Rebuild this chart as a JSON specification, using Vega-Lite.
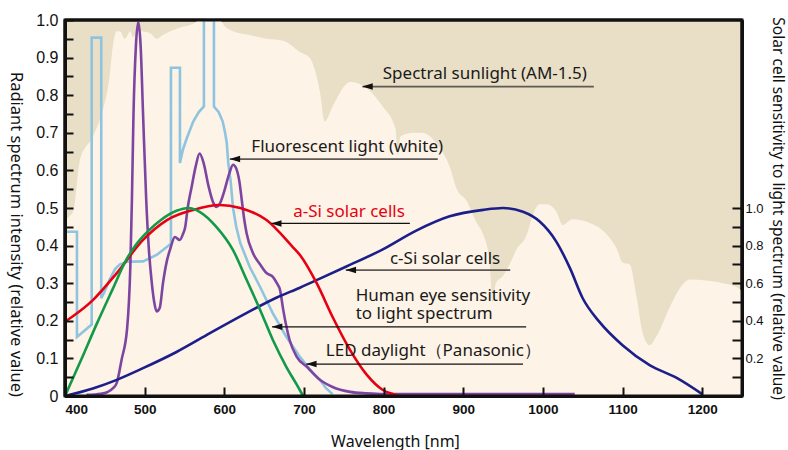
{
  "$schema": "https://vega.github.io/schema/vega-lite/v6.json",
  "width": 677,
  "height": 376,
  "autosize": {"type": "none"},
  "padding": {"left": 65, "top": 20, "right": 46, "bottom": 54},
  "background": "white",
  "config": {"view": {"fill": "#E8DFC6", "stroke": "#111111", "strokeWidth": 3}, "axis": {"grid": false}},
  "datasets": {
    "sun": [
      {"nm": 400, "v": 0.47}, {"nm": 410, "v": 0.49}, {"nm": 419, "v": 0.63}, {"nm": 435, "v": 0.69},
      {"nm": 448, "v": 0.765}, {"nm": 456, "v": 0.85}, {"nm": 460, "v": 0.93}, {"nm": 465, "v": 0.97},
      {"nm": 469, "v": 0.97}, {"nm": 475, "v": 0.95}, {"nm": 482, "v": 0.97}, {"nm": 485, "v": 0.955},
      {"nm": 494, "v": 0.97}, {"nm": 507, "v": 0.965}, {"nm": 515, "v": 0.95}, {"nm": 523, "v": 0.96},
      {"nm": 532, "v": 0.97}, {"nm": 545, "v": 0.98}, {"nm": 561, "v": 0.99}, {"nm": 569, "v": 1.0},
      {"nm": 594, "v": 1.0}, {"nm": 600, "v": 0.985}, {"nm": 611, "v": 0.97}, {"nm": 632, "v": 0.96},
      {"nm": 653, "v": 0.95}, {"nm": 674, "v": 0.945}, {"nm": 695, "v": 0.915}, {"nm": 707, "v": 0.9},
      {"nm": 720, "v": 0.81}, {"nm": 726, "v": 0.73}, {"nm": 736, "v": 0.77}, {"nm": 758, "v": 0.835},
      {"nm": 770, "v": 0.83}, {"nm": 799, "v": 0.77}, {"nm": 815, "v": 0.71}, {"nm": 818, "v": 0.64},
      {"nm": 821, "v": 0.69}, {"nm": 837, "v": 0.7}, {"nm": 849, "v": 0.7}, {"nm": 867, "v": 0.67},
      {"nm": 883, "v": 0.61}, {"nm": 892, "v": 0.55}, {"nm": 904, "v": 0.52}, {"nm": 917, "v": 0.46},
      {"nm": 925, "v": 0.43}, {"nm": 933, "v": 0.36}, {"nm": 937, "v": 0.25}, {"nm": 941, "v": 0.3},
      {"nm": 950, "v": 0.32}, {"nm": 958, "v": 0.35}, {"nm": 967, "v": 0.39}, {"nm": 980, "v": 0.43},
      {"nm": 987, "v": 0.48}, {"nm": 996, "v": 0.51}, {"nm": 1005, "v": 0.51}, {"nm": 1017, "v": 0.49},
      {"nm": 1025, "v": 0.455}, {"nm": 1037, "v": 0.47}, {"nm": 1059, "v": 0.46}, {"nm": 1080, "v": 0.43},
      {"nm": 1093, "v": 0.39}, {"nm": 1100, "v": 0.355}, {"nm": 1109, "v": 0.35}, {"nm": 1118, "v": 0.26},
      {"nm": 1125, "v": 0.17}, {"nm": 1134, "v": 0.135}, {"nm": 1143, "v": 0.16}, {"nm": 1159, "v": 0.235},
      {"nm": 1175, "v": 0.295}, {"nm": 1184, "v": 0.31}, {"nm": 1226, "v": 0.3}, {"nm": 1243, "v": 0.29},
      {"nm": 1250, "v": 0.28}
    ],
    "fluo": [
      {"i": 1, "nm": 400, "v": 0.437}, {"i": 2, "nm": 415, "v": 0.437}, {"i": 3, "nm": 415, "v": 0.157},
      {"i": 4, "nm": 433.5, "v": 0.19}, {"i": 5, "nm": 433.5, "v": 0.953}, {"i": 6, "nm": 445.5, "v": 0.953},
      {"i": 7, "nm": 445.5, "v": 0.26}, {"i": 8, "nm": 449, "v": 0.275}, {"i": 9, "nm": 456, "v": 0.31},
      {"i": 10, "nm": 463, "v": 0.338}, {"i": 11, "nm": 469, "v": 0.35}, {"i": 12, "nm": 478, "v": 0.357},
      {"i": 13, "nm": 498, "v": 0.358}, {"i": 14, "nm": 515, "v": 0.375}, {"i": 15, "nm": 533, "v": 0.405},
      {"i": 16, "nm": 533, "v": 0.873}, {"i": 17, "nm": 544.3, "v": 0.873}, {"i": 18, "nm": 544.3, "v": 0.62},
      {"i": 19, "nm": 548, "v": 0.655}, {"i": 20, "nm": 553, "v": 0.686}, {"i": 21, "nm": 561, "v": 0.73},
      {"i": 22, "nm": 568, "v": 0.755}, {"i": 23, "nm": 574.4, "v": 0.77}, {"i": 24, "nm": 574.4, "v": 1.0},
      {"i": 25, "nm": 587, "v": 1.0}, {"i": 26, "nm": 587, "v": 0.77}, {"i": 27, "nm": 593, "v": 0.755},
      {"i": 28, "nm": 598, "v": 0.73}, {"i": 29, "nm": 601, "v": 0.7}, {"i": 30, "nm": 603, "v": 0.675},
      {"i": 31, "nm": 605, "v": 0.62}, {"i": 32, "nm": 608, "v": 0.57}, {"i": 33, "nm": 611, "v": 0.5},
      {"i": 34, "nm": 615, "v": 0.45}, {"i": 35, "nm": 620, "v": 0.407}, {"i": 36, "nm": 632, "v": 0.343},
      {"i": 37, "nm": 645, "v": 0.29}, {"i": 38, "nm": 661, "v": 0.22}, {"i": 39, "nm": 678, "v": 0.157},
      {"i": 40, "nm": 695, "v": 0.104}, {"i": 41, "nm": 711, "v": 0.061}, {"i": 42, "nm": 720, "v": 0.043},
      {"i": 43, "nm": 728, "v": 0.02}, {"i": 44, "nm": 736, "v": 0.005}
    ],
    "led": [
      {"nm": 427, "v": 0.003}, {"nm": 445, "v": 0.006}, {"nm": 453, "v": 0.01}, {"nm": 460, "v": 0.02},
      {"nm": 465, "v": 0.035}, {"nm": 471, "v": 0.096}, {"nm": 478, "v": 0.18}, {"nm": 482, "v": 0.343},
      {"nm": 484, "v": 0.52}, {"nm": 486, "v": 0.75}, {"nm": 489, "v": 0.93}, {"nm": 492, "v": 0.995},
      {"nm": 495, "v": 0.93}, {"nm": 498, "v": 0.75}, {"nm": 502, "v": 0.52}, {"nm": 505, "v": 0.4},
      {"nm": 509, "v": 0.3}, {"nm": 512, "v": 0.25}, {"nm": 515, "v": 0.225}, {"nm": 519, "v": 0.235},
      {"nm": 523, "v": 0.3}, {"nm": 528, "v": 0.36}, {"nm": 532, "v": 0.39}, {"nm": 538, "v": 0.423},
      {"nm": 544, "v": 0.415}, {"nm": 548, "v": 0.43}, {"nm": 551, "v": 0.45}, {"nm": 554, "v": 0.5},
      {"nm": 559, "v": 0.556}, {"nm": 564, "v": 0.61}, {"nm": 569, "v": 0.645}, {"nm": 574, "v": 0.62},
      {"nm": 580, "v": 0.56}, {"nm": 586, "v": 0.515}, {"nm": 590, "v": 0.503}, {"nm": 594, "v": 0.51},
      {"nm": 600, "v": 0.545}, {"nm": 606, "v": 0.59}, {"nm": 611, "v": 0.615}, {"nm": 615, "v": 0.605},
      {"nm": 619, "v": 0.57}, {"nm": 622, "v": 0.52}, {"nm": 625, "v": 0.47}, {"nm": 628, "v": 0.433},
      {"nm": 636, "v": 0.38}, {"nm": 645, "v": 0.35}, {"nm": 653, "v": 0.327}, {"nm": 661, "v": 0.317},
      {"nm": 666, "v": 0.3}, {"nm": 670, "v": 0.282}, {"nm": 674, "v": 0.229}, {"nm": 682, "v": 0.149},
      {"nm": 691, "v": 0.104}, {"nm": 704, "v": 0.077}, {"nm": 720, "v": 0.043}, {"nm": 736, "v": 0.024},
      {"nm": 758, "v": 0.011}, {"nm": 779, "v": 0.007}, {"nm": 800, "v": 0.005}, {"nm": 1040, "v": 0.005}
    ],
    "asi": [
      {"nm": 400, "s": 0.395}, {"nm": 435, "s": 0.51}, {"nm": 465, "s": 0.654}, {"nm": 498, "s": 0.83},
      {"nm": 528, "s": 0.936}, {"nm": 561, "s": 0.99}, {"nm": 594, "s": 1.016}, {"nm": 620, "s": 1.0},
      {"nm": 653, "s": 0.936}, {"nm": 686, "s": 0.792}, {"nm": 695, "s": 0.75}, {"nm": 716, "s": 0.6},
      {"nm": 736, "s": 0.42}, {"nm": 758, "s": 0.244}, {"nm": 779, "s": 0.112}, {"nm": 799, "s": 0.032},
      {"nm": 812, "s": 0.01}, {"nm": 820, "s": 0}
    ],
    "eye": [
      {"nm": 400, "s": 0}, {"nm": 420, "s": 0.19}, {"nm": 440, "s": 0.385}, {"nm": 460, "s": 0.57},
      {"nm": 477, "s": 0.725}, {"nm": 490, "s": 0.81}, {"nm": 505, "s": 0.88}, {"nm": 520, "s": 0.935},
      {"nm": 540, "s": 0.985}, {"nm": 555, "s": 1.0}, {"nm": 569, "s": 0.98}, {"nm": 590, "s": 0.9},
      {"nm": 611, "s": 0.776}, {"nm": 628, "s": 0.618}, {"nm": 645, "s": 0.458}, {"nm": 661, "s": 0.298},
      {"nm": 678, "s": 0.154}, {"nm": 691, "s": 0.06}, {"nm": 699, "s": 0}
    ],
    "csi": [
      {"nm": 400, "s": 0}, {"nm": 435, "s": 0.04}, {"nm": 465, "s": 0.086}, {"nm": 498, "s": 0.148},
      {"nm": 540, "s": 0.234}, {"nm": 582, "s": 0.334}, {"nm": 623, "s": 0.43}, {"nm": 666, "s": 0.524},
      {"nm": 695, "s": 0.576}, {"nm": 720, "s": 0.624}, {"nm": 754, "s": 0.69}, {"nm": 799, "s": 0.78},
      {"nm": 841, "s": 0.88}, {"nm": 883, "s": 0.956}, {"nm": 925, "s": 0.99}, {"nm": 950, "s": 1.0},
      {"nm": 975, "s": 0.98}, {"nm": 996, "s": 0.928}, {"nm": 1017, "s": 0.82}, {"nm": 1034, "s": 0.68},
      {"nm": 1050, "s": 0.52}, {"nm": 1071, "s": 0.394}, {"nm": 1100, "s": 0.27}, {"nm": 1134, "s": 0.164},
      {"nm": 1168, "s": 0.096}, {"nm": 1200, "s": 0.01}
    ],
    "notes": [
      {"text": "Spectral sunlight (AM-1.5)", "x": 799, "y": 0.843},
      {"text": "Fluorescent light (white)", "x": 634, "y": 0.65},
      {"text": "c-Si solar cells", "x": 808, "y": 0.351},
      {"text": "Human eye sensitivity\nto light spectrum", "x": 765, "y": 0.253},
      {"text": "LED daylight（Panasonic）", "x": 727.5, "y": 0.107}
    ],
    "notesRed": [
      {"text": "a-Si solar cells", "x": 686.5, "y": 0.477}
    ],
    "pointersGrey": [
      {"x1": 773.5, "x2": 1064, "y": 0.823},
      {"x1": 607, "x2": 868, "y": 0.63},
      {"x1": 752.6, "x2": 959, "y": 0.335}
    ],
    "pointersBlack": [
      {"x1": 659, "x2": 833, "y": 0.459},
      {"x1": 660, "x2": 979, "y": 0.184},
      {"x1": 703, "x2": 975, "y": 0.085}
    ],
    "frameH": [{"y": 0}, {"y": 1}],
    "frameV": [{"x": 400}, {"x": 1250}]
  },
  "layer": [
    {
      "data": {"name": "sun"},
      "mark": {"type": "area", "color": "#FDF3E6", "interpolate": "monotone"},
      "encoding": {
        "x": {
          "field": "nm", "type": "quantitative",
          "scale": {"domain": [400, 1250], "nice": false, "zero": false},
          "axis": {
            "orient": "bottom", "values": [400, 500, 600, 700, 800, 900, 1000, 1100, 1200], "format": "d",
            "tickSize": -9, "tickWidth": 2, "tickColor": "#111", "domainColor": "#111", "domainWidth": 3,
            "labelPadding": 15, "labelFont": "Liberation Sans", "labelFontSize": 13.5, "labelFontWeight": "bold",
            "labelColor": "#111", "labelFlush": true,
            "title": "Wavelength [nm]", "titleFont": "Noto Sans", "titleFontSize": 16, "titleFontWeight": "normal",
            "titleColor": "#111", "titleX": 330, "titleY": 37, "titleBaseline": "top", "zindex": 1
          }
        },
        "y": {
          "field": "v", "type": "quantitative",
          "scale": {"domain": [0, 1], "nice": false, "zero": true},
          "axis": {
            "orient": "left",
            "values": [0, 0.05, 0.1, 0.15, 0.2, 0.25, 0.3, 0.35, 0.4, 0.45, 0.5, 0.55, 0.6, 0.65, 0.7, 0.75, 0.8, 0.85, 0.9, 0.95, 1],
            "labelExpr": "round(datum.value*20) % 2 == 0 ? (datum.value == 0 ? '0' : format(datum.value, '.1f')) : ''",
            "tickSize": -8, "tickWidth": 2, "tickColor": "#111", "domainColor": "#111", "domainWidth": 3,
            "labelPadding": 15, "labelFont": "Liberation Sans", "labelFontSize": 16, "labelColor": "#111",
            "labelFlush": false,
            "title": "Radiant spectrum intensity (relative value)", "titleFont": "Noto Sans", "titleFontSize": 16.5,
            "titleFontWeight": "normal", "titleColor": "#111", "titleAngle": 90, "titleBaseline": "bottom",
            "titleX": -58, "titleY": 214, "zindex": 1
          }
        }
      }
    },
    {
      "data": {"name": "fluo"},
      "mark": {"type": "line", "color": "#8EC4DF", "strokeWidth": 2.6, "interpolate": "linear", "strokeJoin": "miter"},
      "encoding": {
        "x": {"field": "nm", "type": "quantitative", "scale": {"domain": [400, 1250], "nice": false, "zero": false}},
        "y": {"field": "v", "type": "quantitative", "scale": {"domain": [0, 1], "nice": false}, "axis": null},
        "order": {"field": "i", "type": "quantitative"}
      }
    },
    {
      "data": {"name": "led"},
      "mark": {"type": "line", "color": "#7D45A2", "strokeWidth": 2.6, "interpolate": "monotone"},
      "encoding": {
        "x": {"field": "nm", "type": "quantitative", "scale": {"domain": [400, 1250], "nice": false, "zero": false}},
        "y": {"field": "v", "type": "quantitative", "scale": {"domain": [0, 1], "nice": false}, "axis": null}
      }
    },
    {
      "data": {"name": "csi"},
      "mark": {"type": "line", "color": "#1C1F8A", "strokeWidth": 2.6, "interpolate": "monotone"},
      "encoding": {
        "x": {"field": "nm", "type": "quantitative", "scale": {"domain": [400, 1250], "nice": false, "zero": false}},
        "y": {
          "field": "s", "type": "quantitative",
          "scale": {"domain": [0, 2], "nice": false, "zero": true},
          "axis": {
            "orient": "right",
            "values": [0.1, 0.2, 0.3, 0.4, 0.5, 0.6, 0.7, 0.8, 0.9, 1.0],
            "labelExpr": "round(datum.value*10) % 2 == 0 ? format(datum.value, '.1f') : ''",
            "tickSize": -10, "tickWidth": 2, "tickColor": "#111", "domainColor": "#111", "domainWidth": 3,
            "labelPadding": 13, "labelFont": "Liberation Sans", "labelFontSize": 13, "labelColor": "#111",
            "labelFlush": false,
            "title": "Solar cell sensitivity to light spectrum (relative value)", "titleFont": "Noto Sans",
            "titleFontSize": 15.6, "titleFontWeight": "normal", "titleColor": "#111", "titleX": 27, "titleY": 188,
            "titleAngle": 90, "titleBaseline": "bottom", "zindex": 1
          }
        }
      }
    },
    {
      "data": {"name": "asi"},
      "mark": {"type": "line", "color": "#E60012", "strokeWidth": 2.6, "interpolate": "monotone"},
      "encoding": {
        "x": {"field": "nm", "type": "quantitative", "scale": {"domain": [400, 1250], "nice": false, "zero": false}},
        "y": {"field": "s", "type": "quantitative", "scale": {"domain": [0, 2], "nice": false}, "axis": null}
      }
    },
    {
      "data": {"name": "eye"},
      "mark": {"type": "line", "color": "#12994A", "strokeWidth": 2.6, "interpolate": "monotone"},
      "encoding": {
        "x": {"field": "nm", "type": "quantitative", "scale": {"domain": [400, 1250], "nice": false, "zero": false}},
        "y": {"field": "s", "type": "quantitative", "scale": {"domain": [0, 2], "nice": false}, "axis": null}
      }
    },
    {
      "data": {"name": "pointersGrey"},
      "mark": {"type": "rule", "color": "#5E5955", "strokeWidth": 1.7},
      "encoding": {
        "x": {"field": "x1", "type": "quantitative", "scale": {"domain": [400, 1250], "nice": false, "zero": false}},
        "x2": {"field": "x2"},
        "y": {"field": "y", "type": "quantitative", "scale": {"domain": [0, 1], "nice": false}, "axis": null}
      }
    },
    {
      "data": {"name": "pointersBlack"},
      "mark": {"type": "rule", "color": "#111111", "strokeWidth": 1.3},
      "encoding": {
        "x": {"field": "x1", "type": "quantitative", "scale": {"domain": [400, 1250], "nice": false, "zero": false}},
        "x2": {"field": "x2"},
        "y": {"field": "y", "type": "quantitative", "scale": {"domain": [0, 1], "nice": false}, "axis": null}
      }
    },
    {
      "data": {"name": "pointersGrey"},
      "mark": {"type": "point", "shape": "M-1,0L1,-0.62L1,0.62Z", "filled": true, "color": "#111111", "opacity": 1, "size": 110, "xOffset": 5},
      "encoding": {
        "x": {"field": "x1", "type": "quantitative", "scale": {"domain": [400, 1250], "nice": false, "zero": false}},
        "y": {"field": "y", "type": "quantitative", "scale": {"domain": [0, 1], "nice": false}, "axis": null}
      }
    },
    {
      "data": {"name": "pointersBlack"},
      "mark": {"type": "point", "shape": "M-1,0L1,-0.62L1,0.62Z", "filled": true, "color": "#111111", "opacity": 1, "size": 110, "xOffset": 5},
      "encoding": {
        "x": {"field": "x1", "type": "quantitative", "scale": {"domain": [400, 1250], "nice": false, "zero": false}},
        "y": {"field": "y", "type": "quantitative", "scale": {"domain": [0, 1], "nice": false}, "axis": null}
      }
    },
    {
      "data": {"name": "notes"},
      "mark": {"type": "text", "align": "left", "baseline": "alphabetic", "font": "Noto Sans", "fontSize": 17, "color": "#1a1a1a", "lineBreak": "\n", "lineHeight": 18.5},
      "encoding": {
        "x": {"field": "x", "type": "quantitative", "scale": {"domain": [400, 1250], "nice": false, "zero": false}},
        "y": {"field": "y", "type": "quantitative", "scale": {"domain": [0, 1], "nice": false}, "axis": null},
        "text": {"field": "text"}
      }
    },
    {
      "data": {"name": "notesRed"},
      "mark": {"type": "text", "align": "left", "baseline": "alphabetic", "font": "Noto Sans", "fontSize": 17, "color": "#E60012"},
      "encoding": {
        "x": {"field": "x", "type": "quantitative", "scale": {"domain": [400, 1250], "nice": false, "zero": false}},
        "y": {"field": "y", "type": "quantitative", "scale": {"domain": [0, 1], "nice": false}, "axis": null},
        "text": {"field": "text"}
      }
    },
    {
      "data": {"name": "frameH"},
      "mark": {"type": "rule", "color": "#111111", "strokeWidth": 3},
      "encoding": {
        "y": {"field": "y", "type": "quantitative", "scale": {"domain": [0, 1], "nice": false}, "axis": null}
      }
    },
    {
      "data": {"name": "frameV"},
      "mark": {"type": "rule", "color": "#111111", "strokeWidth": 3},
      "encoding": {
        "x": {"field": "x", "type": "quantitative", "scale": {"domain": [400, 1250], "nice": false, "zero": false}}
      }
    }
  ],
  "resolve": {"scale": {"y": "independent"}}
}
